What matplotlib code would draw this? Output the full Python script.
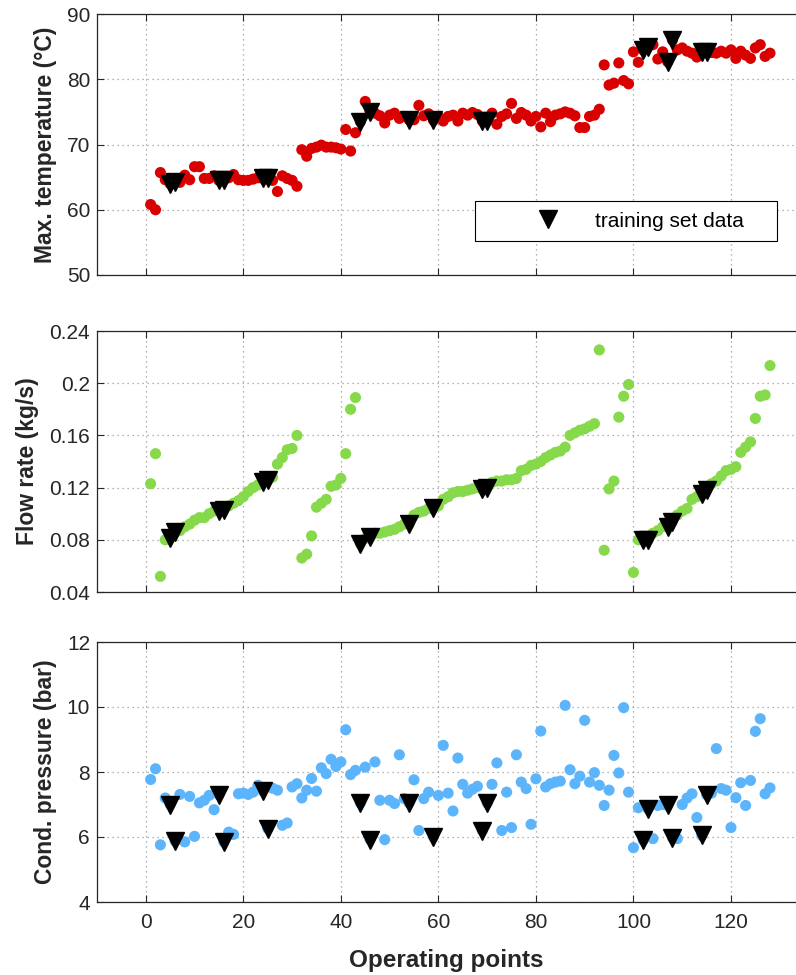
import numpy as np
import matplotlib
matplotlib.use('Agg')
import matplotlib.pyplot as plt

plt.rcParams['font.family'] = ['Liberation Sans', 'DejaVu Sans']

# operating points 1..128
op = np.arange(1, 129)

temp = [60.8, 60.0, 65.7, 64.6, 64.0, 64.2, 64.2, 65.3, 64.6, 66.6,
        66.6, 64.8, 64.8, 65.2, 64.5, 64.6, 64.9, 65.4, 64.6, 64.5,
        64.5, 64.7, 64.9, 64.8, 64.9, 64.5, 62.8, 65.2, 64.8, 64.5,
        63.6, 69.2, 68.2, 69.4, 69.6, 69.9, 69.6, 69.6, 69.5, 69.3,
        72.3, 69.0, 71.8, 73.5, 76.6, 75.0, 74.8, 74.4, 73.3, 74.5,
        74.8, 74.0, 74.3, 73.8, 73.8, 76.0, 74.4, 74.7, 73.7, 74.3,
        73.6, 74.3, 74.5, 73.6, 74.8, 74.5, 74.9, 74.6, 73.6, 73.6,
        74.8, 73.1, 74.3, 74.7, 76.3, 74.0, 74.9, 74.5, 73.6, 74.3,
        72.7, 74.8, 73.5, 74.5, 74.7, 75.0, 74.8, 74.4, 72.6, 72.6,
        74.3, 74.5, 75.4, 82.2, 79.1, 79.4, 82.5, 79.8, 79.3, 84.2,
        82.6, 84.5, 85.0, 85.3, 83.1, 84.2, 82.7, 86.0, 84.5, 84.8,
        84.3, 84.0, 83.4, 84.2, 84.2, 84.1, 84.0, 84.3, 84.0, 84.5,
        83.2, 84.3, 83.7, 83.2, 84.8, 85.3, 83.5, 84.0]

flow = [0.123, 0.146, 0.052, 0.080, 0.081, 0.086, 0.087, 0.090, 0.092, 0.095,
        0.097, 0.097, 0.100, 0.102, 0.102, 0.103, 0.106, 0.108, 0.110, 0.113,
        0.117, 0.120, 0.122, 0.124, 0.126, 0.128, 0.138, 0.143, 0.149, 0.150,
        0.160, 0.066, 0.069, 0.083, 0.105, 0.108, 0.111, 0.121, 0.122, 0.127,
        0.146, 0.180, 0.189, 0.077, 0.081, 0.082, 0.085, 0.085, 0.086, 0.087,
        0.088, 0.090, 0.092, 0.092, 0.099, 0.101, 0.102, 0.104, 0.104, 0.106,
        0.111, 0.113, 0.116, 0.117, 0.117, 0.118, 0.119, 0.120, 0.119, 0.120,
        0.124, 0.125, 0.125, 0.126, 0.126, 0.127, 0.133, 0.134, 0.137, 0.138,
        0.140, 0.143, 0.145, 0.147, 0.148, 0.151, 0.160, 0.162, 0.164, 0.165,
        0.167, 0.169, 0.2255, 0.072, 0.119, 0.125, 0.174, 0.190, 0.199, 0.055,
        0.080, 0.080, 0.080, 0.085, 0.087, 0.090, 0.090, 0.094, 0.099, 0.102,
        0.104, 0.111, 0.113, 0.115, 0.118, 0.123, 0.125, 0.129, 0.133, 0.134,
        0.136, 0.147, 0.151, 0.155, 0.173, 0.190, 0.191, 0.2135]

pres = [7.77, 8.10, 5.76, 7.20, 7.00, 5.88, 7.31, 5.85, 7.25, 6.02,
        7.05, 7.13, 7.28, 6.84, 7.30, 5.85, 6.15, 6.08, 7.33, 7.35,
        7.31, 7.38, 7.59, 7.42, 6.26, 7.50, 7.44, 6.36, 6.43, 7.54,
        7.64, 7.20, 7.44, 7.80, 7.41, 8.13, 7.95, 8.39, 8.17, 8.31,
        9.30, 7.92, 8.05, 7.05, 8.15, 5.92, 8.31, 7.13, 5.92, 7.13,
        7.03, 8.53, 7.18, 7.05, 7.76, 6.20, 7.18, 7.38, 6.00, 7.28,
        8.82, 7.35, 6.80, 8.43, 7.62, 7.35, 7.47, 7.56, 6.20, 7.05,
        7.62, 8.28, 6.20, 7.38, 6.29, 8.53, 7.69, 7.49, 6.39, 7.79,
        9.26, 7.54, 7.64, 7.69, 7.72, 10.05, 8.07, 7.64, 7.87, 9.59,
        7.69, 7.98, 7.59, 6.97, 7.44, 8.51, 7.97, 9.98, 7.38, 5.67,
        6.90, 5.90, 6.87, 5.95, 6.97, 7.00, 6.97, 5.98, 5.95, 7.00,
        7.20, 7.33, 6.60, 6.05, 7.30, 7.35, 8.72, 7.49, 7.44, 6.29,
        7.21, 7.67, 6.97, 7.74, 9.25, 9.64, 7.33, 7.51]

# operating points used for training
train_idx = [5, 6, 15, 16, 24, 25, 44, 46, 54, 59, 69, 70,
             102, 103, 107, 108, 114, 115]

temp = np.array(temp)
flow = np.array(flow)
pres = np.array(pres)
tr = np.array(train_idx) - 1

fig = plt.figure(figsize=(7.96, 9.75), dpi=100)
left = 97 / 796
width = 1 - left
ax1 = fig.add_axes([left, 1 - 275 / 975, width, 261 / 975])
ax2 = fig.add_axes([left, 1 - 592 / 975, width, 261 / 975])
ax3 = fig.add_axes([left, 1 - 902 / 975, width, 260 / 975])

tc = '#262626'
panels = [
    (ax1, temp, '#d90000', (50, 90), [50, 60, 70, 80, 90], ['50', '60', '70', '80', '90'],
     'Max. temperature (°C)'),
    (ax2, flow, '#86d94b', (0.04, 0.24), [0.04, 0.08, 0.12, 0.16, 0.2, 0.24],
     ['0.04', '0.08', '0.12', '0.16', '0.2', '0.24'], 'Flow rate (kg/s)'),
    (ax3, pres, '#5cb5fc', (4, 12), [4, 6, 8, 10, 12], ['4', '6', '8', '10', '12'],
     'Cond. pressure (bar)'),
]

for ax, y, col, ylim, yt, ytl, lab in panels:
    ax.scatter(op, y, s=64, c=col, edgecolors='none', zorder=3)
    ax.plot(op[tr], y[tr], 'v', color='black', ms=13, ls='none', zorder=4,
            label='training set data    ')
    # right edge of the original is cropped away
    ax.set_xlim(-10, (796 - 146) / 4.875)
    ax.set_ylim(*ylim)
    ax.set_yticks(yt)
    ax.set_yticklabels(ytl)
    ax.set_xticks([0, 20, 40, 60, 80, 100, 120])
    ax.grid(True, ls=(0, (1, 3)), color='#999999', lw=0.9)
    ax.set_axisbelow(True)
    ax.tick_params(direction='in', length=5, width=0.8, colors=tc, labelsize=15,
                   top=True, right=False, pad=5)
    for s in ['left', 'top', 'bottom']:
        ax.spines[s].set_color(tc)
        ax.spines[s].set_linewidth(0.9)
    ax.spines['right'].set_visible(False)
    ax.set_ylabel(lab, fontsize=16.5, fontweight='bold', color=tc, labelpad=7)

ax1.tick_params(labelbottom=False)
ax2.tick_params(labelbottom=False)
ax3.tick_params(axis='x', pad=8)
ax3.set_xlabel('Operating points', fontsize=17.5, fontweight='bold', color=tc, labelpad=12)

leg = ax1.legend(loc='lower right', bbox_to_anchor=(0.973, 0.13), fontsize=15,
                 fancybox=False, edgecolor='black', framealpha=1,
                 handlelength=6.0, handletextpad=-0.75, borderpad=0.5,
                 borderaxespad=0)
leg.get_frame().set_linewidth(0.8)
for t in leg.get_texts():
    t.set_color('black')

fig.savefig('out.png', dpi=100)
